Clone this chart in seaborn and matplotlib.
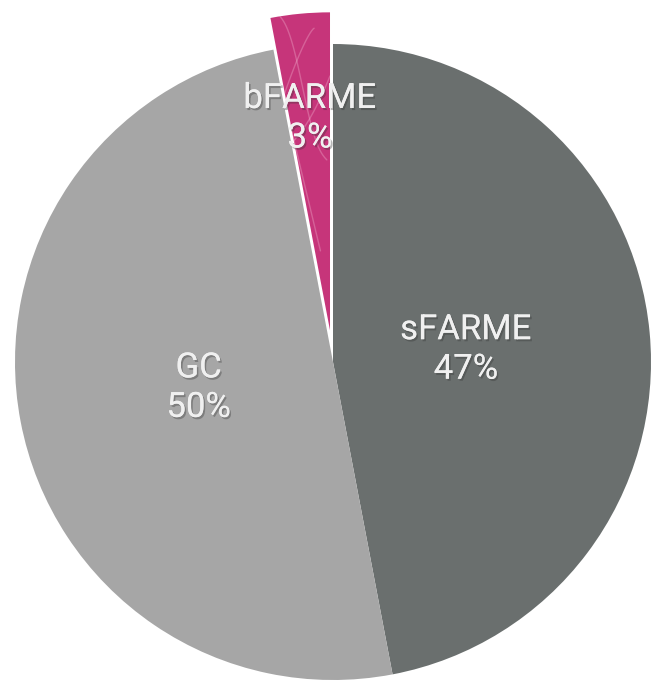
import matplotlib
matplotlib.use("Agg")
import matplotlib.pyplot as plt
import matplotlib.patheffects as pe
import numpy as np
import seaborn as sns

# Share of each component (percent), drawn clockwise from 12 o'clock
categories = ["sFARME", "GC", "bFARME"]
shares = [47, 50, 3]
slice_colors = ["#6a6f6e", "#a6a6a6", "#c6357a"]
explode = [0.0, 0.0, 0.1]
label_radius = [0.42, 0.43, 0.67]

sns.set_theme(style="white")
plt.rcParams["font.family"] = ["Roboto", "DejaVu Sans"]

fig = plt.figure(figsize=(6.51, 6.88), dpi=100)
fig.patch.set_facecolor("white")

# Axes sized so one data unit equals the pie radius in pixels
lim = 1.2
r_px = 318
cx, cy = 333, 688 - 362
size = 2 * lim * r_px
ax = fig.add_axes([(cx - size / 2) / 651, (cy - size / 2) / 688, size / 651, size / 688])

wedges, _ = ax.pie(
    shares,
    colors=slice_colors,
    startangle=90,
    counterclock=False,
    explode=explode,
    radius=1.0,
    wedgeprops=dict(linewidth=0, edgecolor="none"),
)
ax.set_xlim(-lim, lim)
ax.set_ylim(-lim, lim)
ax.axis("off")

# Faint decorative strokes inside the highlighted slice
hl = wedges[2]
hx, hy = hl.center
t = np.linspace(0, 1, 60)
strokes = [
    (hx - 0.17 + 0.16 * t, hy + 1.0 - 0.45 * t + 0.05 * np.sin(6 * t)),
    (hx - 0.05 - 0.14 * t, hy + 0.95 - 0.35 * t ** 1.3),
    (hx - 0.20 + 0.2 * t, hy + 0.55 + 0.25 * t ** 2),
    (hx - 0.15 + 0.12 * t, hy + 0.75 - 0.5 * t),
]
for sx, sy in strokes:
    ln, = ax.plot(sx, sy, color="#f3b6d2", lw=1.0, alpha=0.35, solid_capstyle="round")
    ln.set_clip_path(hl)

shadow = [pe.withSimplePatchShadow(offset=(1.2, -1.5), shadow_rgbFace="#333333", alpha=0.35),
          pe.Normal()]

for w, name, val, dist in zip(wedges, categories, shares, label_radius):
    mid = np.deg2rad((w.theta1 + w.theta2) / 2)
    x0, y0 = w.center
    tx = x0 + dist * np.cos(mid)
    ty = y0 + dist * np.sin(mid)
    ax.text(tx, ty, f"{name}\n{val}%", ha="center", va="center",
            fontsize=25, fontweight="normal", color="#f0f0f0",
            linespacing=1.25, path_effects=shadow)

fig.savefig("out.png", dpi=100, facecolor="white")
